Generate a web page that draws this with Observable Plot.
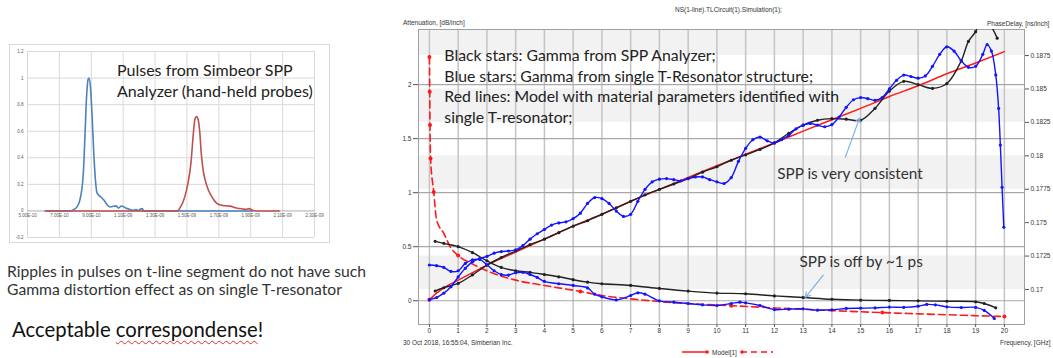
<!DOCTYPE html>
<html><head><meta charset="utf-8">
<script src="https://cdn.jsdelivr.net/npm/d3@7"></script>
<script src="https://cdn.jsdelivr.net/npm/@observablehq/plot@0.6"></script>
<style>
body{margin:0;background:#fff;width:1053px;height:358px;position:relative;overflow:hidden;font-family:Lato,"Open Sans",sans-serif;color:#222;}
.abs{position:absolute;white-space:nowrap;}
.small{font-family:"Liberation Sans",Arial,sans-serif;font-size:6.5px;color:#333;}
#left{border:1px solid #d9d9d9;box-sizing:border-box;}
</style></head><body>
<div id="left" class="abs" style="left:9px;top:44px;width:321px;height:199px"></div>
<div id="right" class="abs" style="left:380px;top:0px;width:673px;height:358px"></div>
<div class="abs" style="left:117px;top:59px;font-size:16px;line-height:21px;color:#222">Pulses from Simbeor SPP<br>Analyzer (hand-held probes)</div>
<div class="abs" style="left:7px;top:262px;font-size:15.7px;line-height:18px;color:#333">Ripples in pulses on t-line segment do not have such<br>Gamma distortion effect as on single T-resonator</div>
<div class="abs" style="left:12px;top:317px;font-size:20.3px;color:#111">Acceptable <span style="text-decoration:underline wavy #e03030;text-decoration-thickness:1px;text-underline-offset:3px">correspondense</span>!</div>
<div class="abs small" style="left:675px;top:6px">NS(1-line).TLCircuit(1).Simulation(1);</div>
<div class="abs small" style="left:403px;top:19px">Attenuation, [dB/inch]</div>
<div class="abs small" style="left:987px;top:20px">PhaseDelay, [ns/inch]</div>
<div class="abs small" style="left:403px;top:339px">30 Oct 2018, 16:55:04, Simberian Inc.</div>
<div class="abs small" style="left:1000px;top:339px">Frequency, [GHz]</div>
<div class="abs small" style="left:682px;top:348px;display:flex;align-items:center;gap:2px">
<svg width="28" height="8"><line x1="0" y1="4" x2="26" y2="4" stroke="#ff1a1a" stroke-width="1.5"/><circle cx="25" cy="4" r="1.8" fill="#ff1a1a"/></svg>
<span>Model[1]</span>
<svg width="34" height="8"><line x1="2" y1="4" x2="34" y2="4" stroke="#ff1a1a" stroke-width="1.5" stroke-dasharray="6,4"/><circle cx="3" cy="4" r="1.8" fill="#ff1a1a"/></svg>
</div>
<script>
// ---------- Left chart: pulses from SPP analyzer ----------
const pulseXTicks = [5e-10,7e-10,9e-10,1.1e-9,1.3e-9,1.5e-9,1.7e-9,1.9e-9,2.1e-9,2.3e-9];
const pulseXLabels = ["5.00E-10","7.00E-10","9.00E-10","1.10E-09","1.30E-09","1.50E-09","1.70E-09","1.90E-09","2.10E-09","2.30E-09"];
const pulseYTicks = [-0.2,0,0.2,0.4,0.6,0.8,1,1.2];
const pulseYLabels = ["-0.2","0","0.2","0.4","0.6","0.8","1","1.2"];
const bluePulseT = [6.2,7.6,7.9,8.1,8.3,8.5,8.6,8.7,8.8,8.85,8.95,9.05,9.15,9.25,9.35,9.45,9.6,9.8,10.0,10.2,10.4,10.55,10.7,10.9,11.05,11.2,11.4,11.6,11.8,11.95,12.1,12.2,12.3,19.1];
const bluePulseV = [0,0,0.01,0.03,0.09,0.28,0.55,0.85,0.99,1.0,0.93,0.72,0.45,0.25,0.14,0.12,0.105,0.08,0.045,0.03,0.035,0.038,0.022,0.037,0.03,0.02,0.012,0.005,0.01,0.003,0.015,0.017,0,0];
const redPulseT = [6.1,14.4,14.6,14.85,15.05,15.25,15.4,15.5,15.6,15.7,15.8,15.9,16.0,16.15,16.3,16.5,16.7,16.9,17.1,17.3,17.5,17.7,17.9,18.1,18.3,18.5,18.7,18.9,19.1,19.3,20.8];
const redPulseV = [0,0,0.03,0.1,0.2,0.36,0.58,0.69,0.71,0.69,0.6,0.43,0.32,0.23,0.17,0.12,0.08,0.055,0.045,0.04,0.038,0.036,0.03,0.022,0.018,0.015,0.012,0.017,0.005,0,0];

// ---------- Right chart: attenuation & phase delay ----------
const freqTicks = [0,1,2,3,4,5,6,7,8,9,10,11,12,13,14,15,16,17,18,19,20];
const attTicks = [0,0.5,1,1.5,2];
const attTickLabels = ["0","0.5","1","1.5","2"];
const pdTicks = [0.17,0.1725,0.175,0.1775,0.18,0.1825,0.185,0.1875];
const pdTickLabels = ["0.17","0.1725","0.175","0.1775","0.18","0.1825","0.185","0.1875"];

const modelF   = [0,0.25,0.5,1,1.5,2,3,4,5,6,7,8,9,10,11,12,13,14,15,16,17,18,19,20];
const modelAtt = [0.01,0.07,0.12,0.19,0.26,0.33,0.45,0.57,0.69,0.80,0.92,1.03,1.14,1.25,1.355,1.46,1.57,1.675,1.78,1.89,1.99,2.10,2.20,2.305];
const modelPdF = [0,0.01,0.02,0.04,0.15,0.25,0.5,0.75,1,1.5,2,3,4,5.25,6,7,8,9,10.5,12,13,14,15.75,17,18,19,20];
const modelPd  = [0.1874,0.1848,0.1823,0.1798,0.1773,0.1752,0.1742,0.1731,0.17254,0.1719,0.1714,0.1707,0.1703,0.16985,0.16955,0.1693,0.1691,0.16895,0.16879,0.16862,0.16852,0.16842,0.16827,0.16818,0.16811,0.16804,0.16798];
const modelPdMarkF = [0,0.01,0.02,0.04,0.15,1,5.25,10.5,15.75,20];

const sppAttF = [0.2,0.5,1,1.5,2,2.5,3,3.5,4,4.5,5,5.5,6,6.5,7,7.5,8,8.5,9,9.5,10,10.5,11,11.5,12,12.5,13,13.5,14,14.5,15,15.5,16,16.5,17,17.5,18,18.5,18.75,19,19.2,19.5,19.75];
const sppAtt  = [0.09,0.12,0.16,0.24,0.33,0.40,0.46,0.52,0.57,0.63,0.69,0.74,0.80,0.86,0.92,0.98,1.03,1.08,1.13,1.19,1.24,1.30,1.35,1.40,1.46,1.55,1.625,1.67,1.685,1.68,1.67,1.78,1.94,2.03,2.00,1.965,2.01,2.22,2.40,2.49,2.60,2.55,2.43];
const sppPdF = [0.2,0.5,1,1.5,2,2.5,3,3.5,4,4.5,5,5.5,6,7,8,9,10,11,12,13,14,15,16,17,18,19,19.3,19.7];
const sppPd  = [0.1736,0.17345,0.1732,0.17275,0.17215,0.17165,0.1714,0.17128,0.17112,0.17095,0.17073,0.17055,0.17043,0.1703,0.17008,0.16988,0.16973,0.16968,0.16952,0.1694,0.16927,0.1692,0.16918,0.16915,0.16912,0.16908,0.16895,0.16863];

const resAttF = [0,0.25,0.5,0.75,1,1.25,1.5,1.75,2,2.25,2.5,2.75,3,3.25,3.5,3.75,4,4.25,4.5,4.75,5,5.25,5.5,5.75,6,6.25,6.5,6.75,7,7.25,7.5,7.75,8,8.25,8.5,8.75,9,9.25,9.5,9.75,10,10.25,10.5,10.75,11,11.25,11.5,11.75,12,12.25,12.5,12.75,13,13.25,13.5,13.75,14,14.25,14.5,14.75,15,15.25,15.5,15.75,16,16.25,16.5,16.75,17,17.25,17.5,17.75,18,18.25,18.5,18.75,19,19.25,19.4,19.55,19.7,19.8,19.86,19.92,19.98];
const resAtt  = [0.01,0.03,0.07,0.13,0.22,0.30,0.36,0.39,0.41,0.44,0.455,0.46,0.47,0.51,0.57,0.62,0.66,0.70,0.72,0.73,0.76,0.81,0.90,0.955,0.945,0.90,0.83,0.78,0.80,0.92,1.03,1.10,1.125,1.13,1.12,1.11,1.13,1.145,1.146,1.12,1.10,1.085,1.14,1.29,1.41,1.49,1.515,1.48,1.46,1.49,1.53,1.59,1.625,1.64,1.625,1.61,1.63,1.70,1.79,1.86,1.88,1.87,1.855,1.88,1.96,2.04,2.088,2.075,2.06,2.08,2.17,2.28,2.35,2.31,2.22,2.16,2.17,2.28,2.37,2.31,2.09,1.78,1.44,1.05,0.68];
const resPdF = [0,0.25,0.5,0.75,1,1.25,1.5,1.75,2,2.25,2.5,2.75,3,3.25,3.5,3.75,4,4.5,5,5.5,5.75,6,6.5,7,7.25,7.5,8,8.5,9,9.5,10,10.5,10.8,11,11.5,12,12.5,13,13.5,14,14.5,15,15.5,16,16.5,17,17.3,17.6,18,18.5,19,19.3,19.65];
const resPd  = [0.17183,0.17178,0.17165,0.17135,0.1714,0.17195,0.17222,0.17225,0.17185,0.1714,0.17112,0.17108,0.17125,0.17128,0.17112,0.1709,0.1706,0.17043,0.1703,0.17012,0.16965,0.16945,0.16922,0.16955,0.16975,0.16965,0.16915,0.16905,0.16895,0.16885,0.1688,0.16895,0.16905,0.169,0.1688,0.1685,0.16853,0.16855,0.16845,0.16848,0.16858,0.1686,0.16862,0.16868,0.16866,0.16875,0.16888,0.16885,0.1687,0.16865,0.16866,0.16843,0.16783];

const notes = ["Black stars: Gamma from SPP Analyzer;","Blue stars: Gamma from single T-Resonator structure;","Red lines: Model with material parameters identified with","single T-resonator;"];

// ---------- build ----------
const zip = (xs, ys, kx, ky) => xs.map((v, i) => ({[kx]: v, [ky]: ys[i]}));
const bluePulse = zip(bluePulseT, bluePulseV, "t", "v").map(d => ({t: d.t * 1e-10, v: d.v}));
const redPulse = zip(redPulseT, redPulseV, "t", "v").map(d => ({t: d.t * 1e-10, v: d.v}));

const leftPlot = Plot.plot({
  width: 319, height: 197,
  marginLeft: 17, marginRight: 15, marginTop: 6, marginBottom: 5,
  x: {domain: [5e-10, 2.3e-9]},
  y: {domain: [-0.2, 1.2]},
  style: {fontFamily: "Liberation Sans, Arial, sans-serif", background: "transparent", overflow: "visible"},
  marks: [
    Plot.ruleX(pulseXTicks, {stroke: "#d9d9d9"}),
    Plot.ruleY(pulseYTicks, {stroke: "#d9d9d9"}),
    Plot.ruleY([0], {stroke: "#bfbfbf"}),
    Plot.line(bluePulse, {x: "t", y: "v", stroke: "#4f81bd", strokeWidth: 1.6, curve: "monotone-x"}),
    Plot.line(redPulse, {x: "t", y: "v", stroke: "#c0504d", strokeWidth: 1.6, curve: "monotone-x"}),
    Plot.text(pulseXTicks, {x: d => d, y: 0, text: (d, i) => pulseXLabels[i], dy: 5, fontSize: 4.5, fill: "#595959"}),
    Plot.text(pulseYTicks, {x: 5e-10, y: d => d, text: (d, i) => pulseYLabels[i], dx: -4, textAnchor: "end", fontSize: 4.5, fill: "#595959"}),
    Plot.axisX({ticks: [], label: null, tickSize: 0}),
    Plot.axisY({ticks: [], label: null, tickSize: 0})
  ]
});
document.getElementById("left").appendChild(leftPlot);

// phase delay is shown against the right axis: map it into the left-axis coordinate
const A0 = -0.22, A1 = 2.51, P0 = 0.16738, P1 = 0.18945;
const toY = p => A0 + (p - P0) / (P1 - P0) * (A1 - A0);
const pdYs = pdTicks.map(toY);
const bands = [[0.1875, P1], [0.1825, 0.185], [0.1775, 0.18], [0.17, 0.1725]];

const model = zip(modelF, modelAtt, "f", "a");
const modelP = zip(modelPdF, modelPd, "f", "p");
const spp = zip(sppAttF, sppAtt, "f", "a");
const sppP = zip(sppPdF, sppPd, "f", "p");
const res = zip(resAttF, resAtt, "f", "a");
const resP = zip(resPdF, resPd, "f", "p");
const noteRows = notes.map((t, i) => ({t, x: 0.52, y: 2.264 - i * 0.19}));

const RED = "#ff1a1a", BLUE = "#1414ff", BLACK = "#222";
const rightPlot = Plot.plot({
  width: 673, height: 358,
  marginLeft: 38, marginRight: 29, marginTop: 29, marginBottom: 34,
  x: {domain: [-0.38, 20.7]},
  y: {domain: [A0, A1]},
  style: {fontFamily: "Liberation Sans, Arial, sans-serif", background: "transparent", overflow: "visible"},
  marks: [
    Plot.rect(bands, {x1: -0.38, x2: 20.7, y1: d => toY(d[0]), y2: d => toY(d[1]), fill: "#f2f2f2"}),
    Plot.ruleX(freqTicks, {stroke: "#c4c4c4", strokeWidth: 1.5}),
    Plot.ruleY(attTicks, {stroke: "#a8a8a8", strokeWidth: 1.2}),
    Plot.frame({stroke: "#a0a0a0"}),
    Plot.axisX(freqTicks, {tickSize: 3, tickPadding: 1, fontSize: 6.5, label: null, stroke: "#555", fill: "#333"}),
    Plot.axisY(attTicks, {anchor: "left", tickSize: 5, tickPadding: 2, fontSize: 6.5, label: null, tickFormat: d => attTickLabels[attTicks.indexOf(d)], fill: "#333", stroke: "#555"}),
    Plot.axisY(pdYs, {anchor: "right", tickSize: 4, tickPadding: 2, fontSize: 6.5, label: null, tickFormat: d => pdTickLabels[pdYs.indexOf(d)], fill: "#333", stroke: "#555"}),
    Plot.line(model, {x: "f", y: "a", stroke: RED, strokeWidth: 1.5, curve: "monotone-x"}),
    Plot.dot(model.filter(d => d.f === 0), {x: "f", y: "a", r: 2, fill: RED}),
    Plot.line(modelP, {x: "f", y: d => toY(d.p), stroke: RED, strokeWidth: 1.6, strokeDasharray: "7,4", curve: "monotone-x"}),
    Plot.dot(modelP.filter(d => modelPdMarkF.includes(d.f)), {x: "f", y: d => toY(d.p), r: 2, fill: RED}),
    Plot.line(spp, {x: "f", y: "a", stroke: BLACK, strokeWidth: 1.4, curve: "catmull-rom", clip: true}),
    Plot.dot(spp, {x: "f", y: "a", r: 1.6, fill: BLACK, clip: true}),
    Plot.line(sppP, {x: "f", y: d => toY(d.p), stroke: BLACK, strokeWidth: 1.4, curve: "catmull-rom"}),
    Plot.dot(sppP, {x: "f", y: d => toY(d.p), r: 1.6, fill: BLACK}),
    Plot.line(res, {x: "f", y: "a", stroke: BLUE, strokeWidth: 1.4, curve: "catmull-rom"}),
    Plot.dot(res, {x: "f", y: "a", r: 1.6, fill: BLUE}),
    Plot.line(resP, {x: "f", y: d => toY(d.p), stroke: BLUE, strokeWidth: 1.4, curve: "catmull-rom"}),
    Plot.dot(resP, {x: "f", y: d => toY(d.p), r: 1.6, fill: BLUE}),
    Plot.text(noteRows, {x: "x", y: "y", text: "t", textAnchor: "start", fontSize: 15.8, fontFamily: "Lato, sans-serif", fill: "#222"}),
    Plot.text(["SPP is very consistent"], {x: 12.1, y: 1.171, text: d => d, textAnchor: "start", fontSize: 15.3, fontFamily: "Lato, sans-serif", fill: "#333"}),
    Plot.text(["SPP is off by ~1 ps"], {x: 12.87, y: 0.356, text: d => d, textAnchor: "start", fontSize: 15.3, fontFamily: "Lato, sans-serif", fill: "#333"}),
    Plot.arrow([{x1: 14.47, y1: 1.329, x2: 14.96, y2: 1.69}, {x1: 13.70, y1: 0.236, x2: 13.08, y2: 0.032}], {x1: "x1", y1: "y1", x2: "x2", y2: "y2", stroke: "#7fb0e0", strokeWidth: 1.2, headLength: 7})
  ]
});
document.getElementById("right").appendChild(rightPlot);
</script>
</body></html>
